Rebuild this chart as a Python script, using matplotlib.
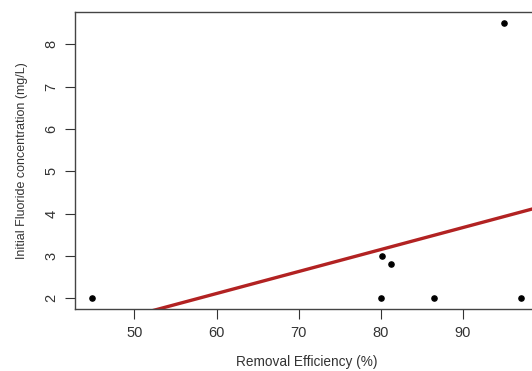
import numpy as np
import matplotlib.pyplot as plt

plt.rcParams['font.family'] = ['Liberation Sans', 'DejaVu Sans']

# removal efficiency (%) and initial fluoride concentration (mg/L)
efficiency = [44.85, 80.0, 80.1, 81.2, 86.5, 95.0, 97.05]
fluoride = [2.0, 2.0, 3.0, 2.8, 2.0, 8.5, 2.0]
x_ticks = [50, 60, 70, 80, 90]
y_ticks = [2, 3, 4, 5, 6, 7, 8]

fig = plt.figure(figsize=(5.32, 3.71), dpi=100)
# axes run past the right edge, like the cropped original
ax = fig.add_axes([0.141, 0.1663, 0.870, 0.8013])

ax.scatter(efficiency, fluoride, s=14, color='black', zorder=3)

slope, intercept = np.polyfit(efficiency, fluoride, 1)
xl = np.array([30, 110])
ax.plot(xl, intercept + slope * xl, color='#B22222', lw=2.4, zorder=2)

# R style 4% padding
xr = max(efficiency) - min(efficiency)
yr = max(fluoride) - min(fluoride)
ax.set_xlim(min(efficiency) - 0.04 * xr, max(efficiency) + 0.04 * xr)
ax.set_ylim(min(fluoride) - 0.04 * yr, max(fluoride) + 0.04 * yr)

ax.set_xticks(x_ticks)
ax.set_yticks(y_ticks)
ax.set_yticklabels([str(v) for v in y_ticks], rotation=90, va='center')
ax.tick_params(length=7, width=0.8, colors='#333333', labelsize=10.5, pad=5)
for s in ax.spines.values():
    s.set_color('#444444')
    s.set_linewidth(1)

ax.set_xlabel('Removal Efficiency (%)', fontsize=9.8, color='#333333', labelpad=11)
ax.set_ylabel('Initial Fluoride concentration (mg/L)', fontsize=9, color='#333333', labelpad=12)

fig.savefig('out.png', dpi=100)
